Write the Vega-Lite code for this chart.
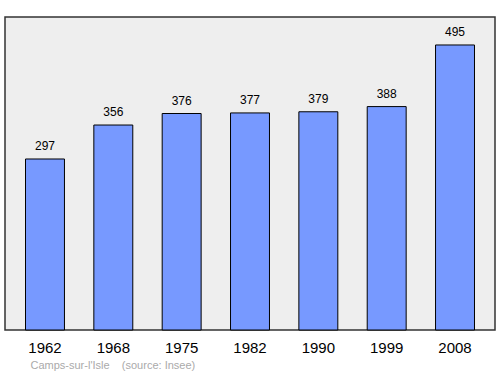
{
  "$schema": "https://vega.github.io/schema/vega-lite/v6.json",
  "width": 490,
  "height": 313,
  "autosize": "none",
  "padding": {"left": 5, "top": 17, "right": 5, "bottom": 44},
  "background": "white",
  "config": {
    "font": "Liberation Sans",
    "view": {"fill": "#eeeeee", "stroke": "#333333", "strokeWidth": 1.5}
  },
  "data": {"values": [
    {"year": "1962", "pop": 297},
    {"year": "1968", "pop": 356},
    {"year": "1975", "pop": 376},
    {"year": "1982", "pop": 377},
    {"year": "1990", "pop": 379},
    {"year": "1999", "pop": 388},
    {"year": "2008", "pop": 495}
  ]},
  "encoding": {
    "x": {
      "field": "year", "type": "nominal", "sort": null,
      "scale": {"paddingInner": 0.43, "paddingOuter": 0.3},
      "axis": {
        "labelAngle": 0, "labelFontSize": 15, "labelColor": "#000000",
        "labelPadding": 10, "ticks": false, "domain": false,
        "title": "Camps-sur-l'Isle\u00a0\u00a0\u00a0\u00a0(source: Insee)",
        "titleFontSize": 11, "titleFontWeight": "normal", "titleColor": "#aaaaaa",
        "titleAlign": "left", "titleAnchor": "start", "titleBaseline": "middle",
        "titleX": 25, "titleY": 35
      }
    },
    "y": {
      "field": "pop", "type": "quantitative",
      "scale": {"domain": [0, 543.6], "nice": false},
      "axis": null
    }
  },
  "layer": [
    {"mark": {"type": "bar", "color": "#7799ff", "stroke": "#000000", "strokeWidth": 1}},
    {"mark": {"type": "text", "baseline": "alphabetic", "dy": -9, "fontSize": 12, "color": "#000000"},
     "encoding": {"text": {"field": "pop", "type": "quantitative"}}}
  ]
}
